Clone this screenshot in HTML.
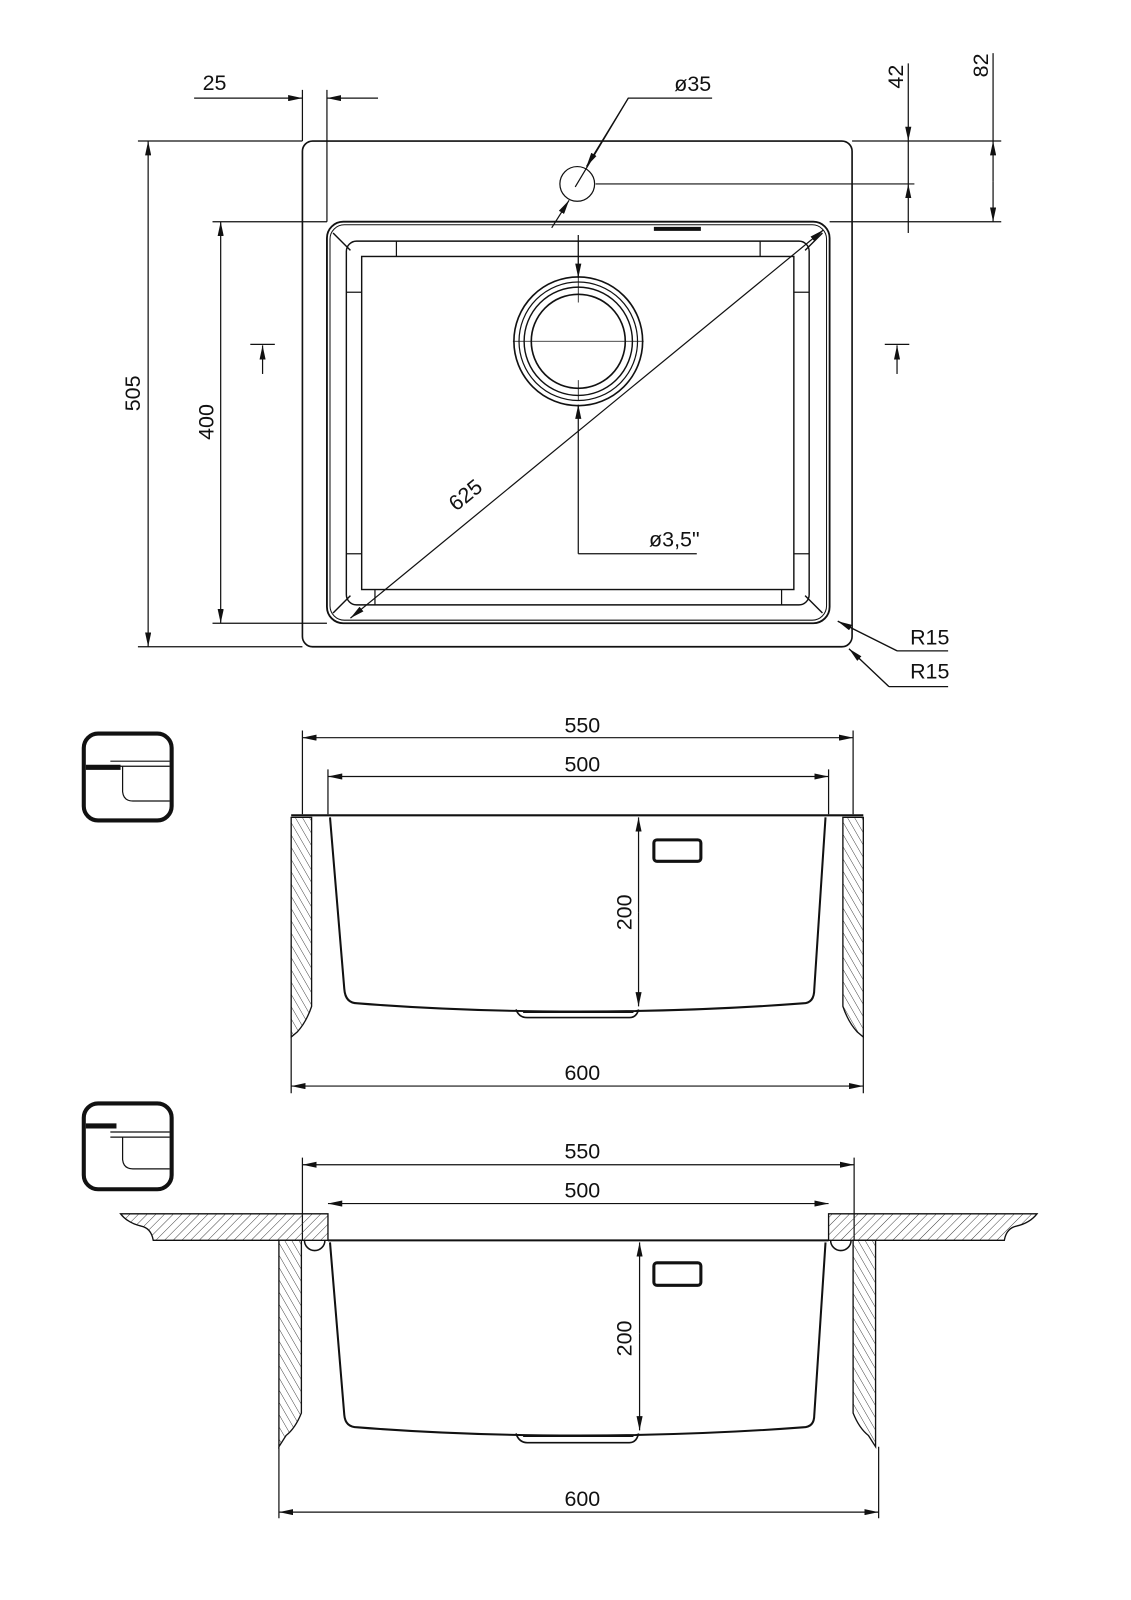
<!DOCTYPE html>
<html><head><meta charset="utf-8"><style>
html,body{margin:0;padding:0;background:#fff}
svg{display:block}
text{font-family:"Liberation Sans",sans-serif;font-size:21px;fill:#111}
</style></head><body>
<svg width="1131" height="1600" viewBox="0 0 1107 1566" xmlns="http://www.w3.org/2000/svg">
<defs>
<marker id="a" viewBox="0 0 14 6" refX="14" refY="3" markerWidth="14" markerHeight="6" markerUnits="userSpaceOnUse" orient="auto-start-reverse"><path d="M0,0L14,3L0,6z" fill="#111"/></marker>
<pattern id="h1" width="6" height="6" patternUnits="userSpaceOnUse" patternTransform="rotate(45)"><line x1="0" y1="0" x2="0" y2="6" stroke="#333" stroke-width="0.9"/></pattern>
<pattern id="h2" width="6" height="6" patternUnits="userSpaceOnUse" patternTransform="rotate(-30)"><line x1="0" y1="0" x2="0" y2="6" stroke="#333" stroke-width="0.9"/></pattern>
</defs>
<g fill="none" stroke="#111" stroke-width="1.2">
<!-- TOP VIEW -->
<rect x="296" y="138" width="538" height="495" rx="10" stroke-width="1.6"/>
<rect x="320" y="217" width="492" height="393" rx="16" stroke-width="1.8"/>
<rect x="323" y="220" width="486" height="387" rx="14" stroke-width="1"/>
<rect x="339" y="236" width="453" height="356" rx="10" stroke-width="1.4"/>
<rect x="354" y="251" width="423" height="326" stroke-width="1.4"/>
<line x1="388" y1="236" x2="388" y2="251"/><line x1="744" y1="236" x2="744" y2="251"/>
<line x1="339" y1="286" x2="354" y2="286"/><line x1="339" y1="542" x2="354" y2="542"/>
<line x1="777" y1="286" x2="792" y2="286"/><line x1="777" y1="542" x2="792" y2="542"/>
<line x1="367" y1="577" x2="367" y2="592"/><line x1="765" y1="577" x2="765" y2="592"/>
<path d="M326,228L343,245M805,228L788,245M326,600L343,583M805,600L788,583" stroke-width="1.4"/>
<path d="M640,224h46" stroke-width="4"/>
<circle cx="565" cy="180" r="17"/>
<circle cx="566" cy="334" r="63" stroke-width="1.6"/>
<circle cx="566" cy="334" r="58"/>
<circle cx="566" cy="334" r="53" stroke-width="1.4"/>
<circle cx="566" cy="334" r="46" stroke-width="1.6"/>
<path d="M502,334h128M566,236v60M566,372v20" stroke-width="0.8"/>
<line x1="566" y1="230" x2="566" y2="272" marker-end="url(#a)"/>
<line x1="566" y1="542" x2="566" y2="396" marker-end="url(#a)"/>
<line x1="566" y1="542" x2="682" y2="542"/>
<line x1="343" y1="605" x2="806" y2="225" marker-start="url(#a)" marker-end="url(#a)"/>
<line x1="540" y1="223" x2="557" y2="196" marker-end="url(#a)"/>
<line x1="615" y1="96" x2="574" y2="163" marker-end="url(#a)"/>
<path d="M563,183L615,96H697"/>
<path d="M583,180H895M834,138H980M812,217H980"/>
<line x1="889" y1="62" x2="889" y2="138" marker-end="url(#a)"/>
<line x1="889" y1="228" x2="889" y2="180" marker-end="url(#a)"/>
<line x1="889" y1="138" x2="889" y2="180"/>
<line x1="972" y1="178" x2="972" y2="138" marker-end="url(#a)"/>
<line x1="972" y1="178" x2="972" y2="217" marker-end="url(#a)"/>
<line x1="972" y1="52" x2="972" y2="138"/>
<path d="M296,88V138M320,88V217"/>
<line x1="190" y1="96" x2="296" y2="96" marker-end="url(#a)"/>
<line x1="370" y1="96" x2="320" y2="96" marker-end="url(#a)"/>
<path d="M135,138H296M135,633H296M208,217H320M208,610H320"/>
<line x1="145" y1="138" x2="145" y2="633" marker-start="url(#a)" marker-end="url(#a)"/>
<line x1="216" y1="217" x2="216" y2="610" marker-start="url(#a)" marker-end="url(#a)"/>
<path d="M245,337h24M866,337h24"/>
<line x1="257" y1="366" x2="257" y2="338" marker-end="url(#a)"/>
<line x1="878" y1="366" x2="878" y2="338" marker-end="url(#a)"/>
<path d="M878,637L820,608M878,637H928"/>
<path d="M870,672L831,635M870,672H928"/>
<line x1="878" y1="637" x2="820" y2="608" marker-end="url(#a)"/>
<line x1="870" y1="672" x2="831" y2="635" marker-end="url(#a)"/>

<!-- MIDDLE VIEW -->
<rect x="82" y="718" width="86" height="85" rx="14" stroke-width="4"/>
<path d="M84,750H118M84,752H118" stroke-width="3"/>
<path d="M108,745H166M108,750H166M120,750V775Q121,784 130,784H166"/>
<line x1="296" y1="722" x2="835" y2="722" marker-start="url(#a)" marker-end="url(#a)"/>
<line x1="321" y1="760" x2="811" y2="760" marker-start="url(#a)" marker-end="url(#a)"/>
<path d="M296,715V797M835,715V797M321,753V797M811,753V797"/>
<path d="M285,798H845" stroke-width="2"/>
<path d="M285,800H305V985Q300,1000 291,1010L285,1015Z" fill="url(#h2)" stroke-width="1.3"/>
<path d="M845,800H825V985Q830,1000 839,1010L845,1015Z" fill="url(#h2)" stroke-width="1.3"/>
<path d="M323,800L337,968Q338,982 350,982Q450,990 566,990Q680,990 786,982Q797,982 797,968L808,800" stroke-width="2"/>
<path d="M505,988Q508,996 516,996H616Q623,996 625,988" stroke-width="1.6"/>
<path d="M512,991H620" stroke-width="1"/>
<rect x="640" y="822" width="46" height="21" rx="3" stroke-width="3"/>
<line x1="625" y1="893" x2="625" y2="800" marker-end="url(#a)"/>
<line x1="625" y1="893" x2="625" y2="985" marker-end="url(#a)"/>
<path d="M285,1015V1070M845,1015V1070"/>
<line x1="285" y1="1063" x2="845" y2="1063" marker-start="url(#a)" marker-end="url(#a)"/>

<!-- BOTTOM VIEW -->
<rect x="82" y="1080" width="86" height="84" rx="14" stroke-width="4"/>
<path d="M84,1102H114" stroke-width="5"/>
<path d="M108,1108H166M108,1113H166M120,1113V1135Q121,1144 130,1144H166"/>
<line x1="296" y1="1140" x2="836" y2="1140" marker-start="url(#a)" marker-end="url(#a)"/>
<line x1="321" y1="1178" x2="811" y2="1178" marker-start="url(#a)" marker-end="url(#a)"/>
<path d="M296,1133V1214M836,1133V1214"/>
<path d="M118,1188H321V1214H150Q148,1202 138,1200Q125,1197 118,1188Z" fill="url(#h1)" stroke-width="1.3"/>
<path d="M1015,1188H811V1214H983Q985,1202 995,1200Q1008,1197 1015,1188Z" fill="url(#h1)" stroke-width="1.3"/>
<path d="M321,1214H811" stroke-width="2"/>
<path d="M273,1214H295V1383Q289,1398 280,1405L273,1416Z" fill="url(#h2)" stroke-width="1.3"/>
<path d="M857,1214H835V1383Q841,1398 850,1405L857,1416Z" fill="url(#h2)" stroke-width="1.3"/>
<path d="M298,1214A10,10 0 0 0 318,1214M813,1214A10,10 0 0 0 833,1214" stroke-width="1.5"/>
<path d="M323,1216L337,1385Q338,1397 350,1397Q450,1405 566,1405Q680,1405 786,1397Q797,1397 797,1385L808,1216" stroke-width="2"/>
<path d="M505,1403Q508,1412 516,1412H616Q623,1412 625,1403" stroke-width="1.6"/>
<path d="M512,1406H620" stroke-width="1"/>
<rect x="640" y="1236" width="46" height="22" rx="3" stroke-width="3"/>
<line x1="626" y1="1305" x2="626" y2="1216" marker-end="url(#a)"/>
<line x1="626" y1="1305" x2="626" y2="1400" marker-end="url(#a)"/>
<path d="M273,1416V1486M860,1416V1486"/>
<line x1="273" y1="1480" x2="860" y2="1480" marker-start="url(#a)" marker-end="url(#a)"/>
</g>
<g>
<text x="210" y="88" text-anchor="middle">25</text>
<text x="678" y="89" text-anchor="middle">ø35</text>
<text transform="translate(884,75) rotate(-90)" text-anchor="middle">42</text>
<text transform="translate(967,64) rotate(-90)" text-anchor="middle">82</text>
<text transform="translate(137,385) rotate(-90)" text-anchor="middle">505</text>
<text transform="translate(209,413) rotate(-90)" text-anchor="middle">400</text>
<text transform="translate(460,490) rotate(-39)" text-anchor="middle">625</text>
<text x="660" y="535" text-anchor="middle">ø3,5"</text>
<text x="910" y="631" text-anchor="middle">R15</text>
<text x="910" y="664" text-anchor="middle">R15</text>
<text x="570" y="717" text-anchor="middle">550</text>
<text x="570" y="755" text-anchor="middle">500</text>
<text transform="translate(618,893) rotate(-90)" text-anchor="middle">200</text>
<text x="570" y="1057" text-anchor="middle">600</text>
<text x="570" y="1134" text-anchor="middle">550</text>
<text x="570" y="1172" text-anchor="middle">500</text>
<text transform="translate(618,1310) rotate(-90)" text-anchor="middle">200</text>
<text x="570" y="1474" text-anchor="middle">600</text>
</g>
</svg>
</body></html>
